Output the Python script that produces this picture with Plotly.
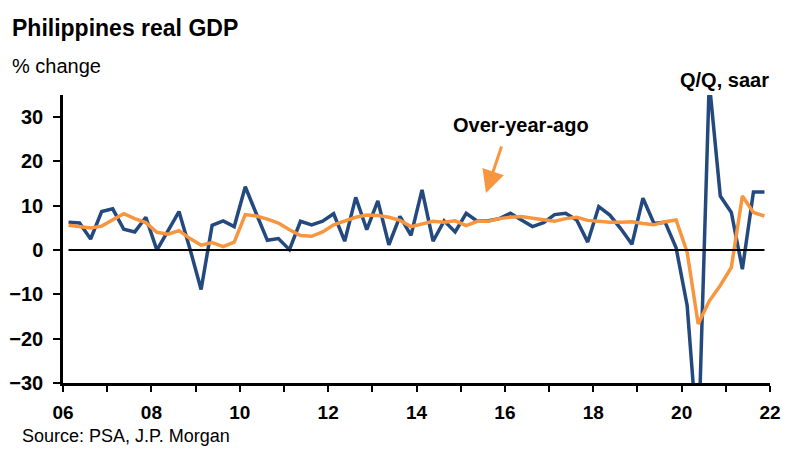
import plotly.graph_objects as go

# Quarterly periods 2006Q1 .. 2021Q4
years = list(range(2006, 2022))
quarters = [1, 2, 3, 4]

# Q/Q, saar (% change)
qoq_saar = [
    6.3, 6.1, 2.5, 8.7,     # 2006
    9.3, 4.7, 4.1, 7.4,     # 2007
    0.0, 4.5, 8.7, 0.2,     # 2008
    -8.9, 5.6, 6.6, 5.3,    # 2009
    14.3, 8.2, 2.2, 2.6,    # 2010
    0.1, 6.5, 5.7, 6.5,     # 2011
    8.2, 2.0, 11.9, 4.6,    # 2012
    11.1, 1.2, 7.6, 3.3,    # 2013
    13.6, 2.0, 6.6, 4.1,    # 2014
    8.3, 6.5, 6.6, 7.1,     # 2015
    8.3, 6.8, 5.3, 6.2,     # 2016
    8.0, 8.3, 6.8, 1.8,     # 2017
    9.8, 7.9, 4.8, 1.3,     # 2018
    11.7, 6.0, 6.3, 0.5,    # 2019
    -12.5, -45.0, 38.0, 12.2,  # 2020
    8.5, -4.3, 13.1, 13.1,  # 2021
]

# Over-year-ago (% change)
oya = [
    5.6, 5.3, 5.0, 5.4,     # 2006
    6.8, 8.2, 7.1, 6.2,     # 2007
    4.0, 3.6, 4.4, 2.6,     # 2008
    1.1, 1.7, 0.8, 1.8,     # 2009
    8.0, 7.7, 7.0, 6.1,     # 2010
    4.6, 3.3, 3.1, 4.1,     # 2011
    5.7, 6.6, 7.4, 7.9,     # 2012
    7.8, 7.4, 6.7, 5.3,     # 2013
    5.9, 6.5, 6.3, 6.6,     # 2014
    5.5, 6.5, 6.5, 7.1,     # 2015
    7.4, 7.6, 7.2, 6.8,     # 2016
    6.5, 7.1, 7.4, 6.7,     # 2017
    6.5, 6.3, 6.3, 6.4,     # 2018
    6.0, 5.7, 6.4, 6.8,     # 2019
    -0.5, -16.7, -11.5, -8.0,  # 2020
    -3.9, 12.2, 8.5, 7.7,   # 2021
]

tick_years = list(range(2006, 2023))
tick_labels = [f"{y % 100:02d}" if y % 2 == 0 else "" for y in tick_years]
y_ticks = [-30, -20, -10, 0, 10, 20, 30]

# mid-quarter positions on a numeric year axis
x = [y + (q - 0.5) / 4 for y in years for q in quarters]

BLUE = "#24497F"
ORANGE = "#F7963F"
FONT = "Arial, Liberation Sans, Helvetica, sans-serif"

fig = go.Figure()
fig.add_trace(go.Scatter(x=x, y=qoq_saar, mode="lines",
                         line=dict(color=BLUE, width=3.5), hoverinfo="skip"))
fig.add_trace(go.Scatter(x=x, y=oya, mode="lines",
                         line=dict(color=ORANGE, width=3.5), hoverinfo="skip"))
fig.add_trace(go.Scatter(x=[x[0], x[-1]], y=[0, 0], mode="lines",
                         line=dict(color="black", width=2), hoverinfo="skip"))

# page body has an 8px margin, so the figure is 8px smaller each way
fig.update_layout(
    width=792, height=446,
    margin=dict(l=55, r=30, t=87, b=71, autoexpand=False),
    paper_bgcolor="white", plot_bgcolor="white",
    showlegend=False,
    font=dict(family=FONT, color="black"),
    xaxis=dict(
        range=[2006, 2022], tickmode="array",
        tickvals=tick_years, ticktext=tick_labels,
        showgrid=False, zeroline=False, automargin=False,
        showline=True, linecolor="black", linewidth=2.5,
        ticks="outside", ticklen=6, tickwidth=2, tickcolor="black",
        tickfont=dict(size=19, family=FONT, color="black", weight="bold"),
        ticklabelstandoff=4,
    ),
    yaxis=dict(
        range=[-30, 35], tickmode="array", tickvals=y_ticks,
        showgrid=False, zeroline=False, automargin=False,
        showline=True, linecolor="black", linewidth=2.5,
        ticks="outside", ticklen=7, tickwidth=2, tickcolor="black",
        tickfont=dict(size=20, family=FONT, color="black", weight="bold"),
        ticklabelstandoff=6,
    ),
)

# helpers: screen pixel -> paper fraction (plot area spans x 63..770, y 95..383)
def px_x(p):
    return (p - 63) / 707

def px_y(p):
    return (383 - p) / 288

annos = [
    dict(text="<b>Philippines real GDP</b>", x=px_x(10), y=px_y(28), size=23),
    dict(text="% change", x=px_x(10), y=px_y(66), size=20),
    dict(text="Source: PSA, J.P. Morgan", x=px_x(20), y=px_y(436), size=18),
]
for a in annos:
    fig.add_annotation(text=a["text"], xref="paper", yref="paper",
                       x=a["x"], y=a["y"], xanchor="left", yanchor="middle",
                       showarrow=False,
                       font=dict(size=a["size"], family=FONT, color="black"))

fig.add_annotation(text="<b>Over-year-ago</b>", xref="paper", yref="paper",
                   x=px_x(521), y=px_y(125), xanchor="center", yanchor="middle",
                   showarrow=False, font=dict(size=20, family=FONT, color="black"))
fig.add_annotation(text="<b>Q/Q, saar</b>", xref="paper", yref="paper",
                   x=px_x(724), y=px_y(80), xanchor="center", yanchor="middle",
                   showarrow=False, font=dict(size=20, family=FONT, color="black"))
# arrow pointing at the over-year-ago line
fig.add_annotation(text="", xref="paper", yref="paper",
                   x=px_x(486), y=px_y(193), axref="pixel", ayref="pixel",
                   ax=16, ay=-48, showarrow=True, arrowhead=2, arrowsize=1.5,
                   arrowwidth=3, arrowcolor=ORANGE)

fig.write_html("out.html")
